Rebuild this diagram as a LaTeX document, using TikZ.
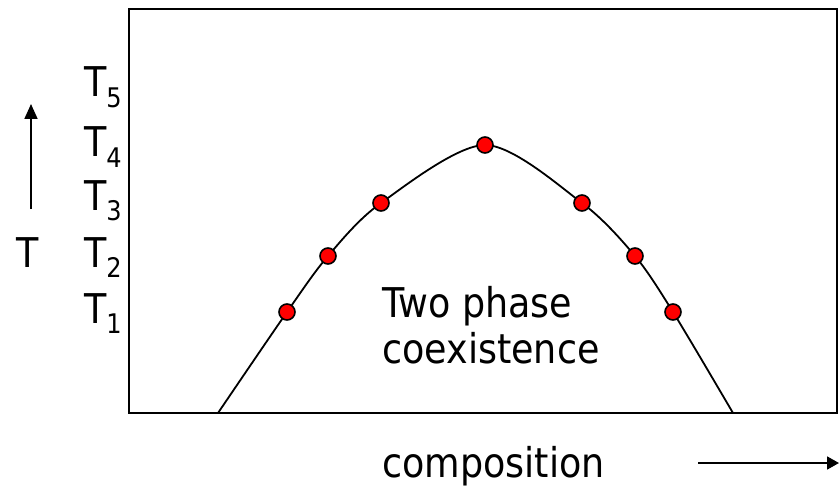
\documentclass[tikz,border=0pt]{standalone}
\usepackage{fontspec}
\setmainfont[FakeStretch=0.89]{DejaVu Sans}
\usetikzlibrary{arrows.meta,positioning}

\newcommand{\Tlevel}[1]{T\raisebox{-10pt}{\fontsize{27}{27}\selectfont #1}}

\begin{document}
\begin{tikzpicture}[x=1pt, y=-1pt, every node/.style={font=\fontsize{41}{48}\selectfont, inner sep=0pt},
    dot/.style={circle, draw, fill=red, line width=1.6pt, minimum size=16pt, inner sep=0pt}]
  \useasboundingbox (0,0) rectangle (839,487);
  % plot frame
  \draw[line width=2.2pt] (129,9) rectangle (837,413);
  % temperature levels
  \node[anchor=base west] (t5) at (84,97) {\Tlevel{5}};
  \node[anchor=base west] (t4) at (84,157) {\Tlevel{4}};
  \node[anchor=base west] (t3) at (84,210) {\Tlevel{3}};
  \node[anchor=base west] (t2) at (84,267) {\Tlevel{2}};
  \node[anchor=base west] (t1) at (84,323) {\Tlevel{1}};
  \node[anchor=base west] (tax) at (16,267) {T};
  \coordinate (tfoot) at (31,209);
  \coordinate (thead) at (31,104);
  \draw[line width=1.8pt, -{Triangle[length=15pt, width=13pt]}] (tfoot) -- (thead);
  % coexistence curve
  \coordinate (cl) at (218,413);
  \coordinate (cr) at (733,413);
  \node[coordinate] (l1) at (287,312) {};
  \node[coordinate] (l2) at (328,256) {};
  \node[coordinate] (l3) at (381,203) {};
  \node[coordinate] (top) at (485,145) {};
  \node[coordinate] (r3) at (582,203) {};
  \node[coordinate] (r2) at (635,256) {};
  \node[coordinate] (r1) at (673,312) {};
  \draw[line width=1.8pt] plot[smooth, tension=0.5] coordinates {(cl) (l1) (l2) (l3) (top) (r3) (r2) (r1) (cr)};
  \foreach \p in {l1,l2,l3,top,r3,r2,r1}
    \node[dot] (d\p) at (\p) {};
  % labels
  \node[anchor=base west, align=left] (two) at (382,317) {Two phase};
  \node[anchor=base west] (coex) at (382,363) {coexistence};
  \node[anchor=base west] (comp) at (382,477) {composition};
  \coordinate (cfoot) at (698,463);
  \coordinate (chead) at (839,463);
  \draw[line width=1.8pt, -{Triangle[length=12pt, width=13pt]}] (cfoot) -- (chead);
\end{tikzpicture}
\end{document}
